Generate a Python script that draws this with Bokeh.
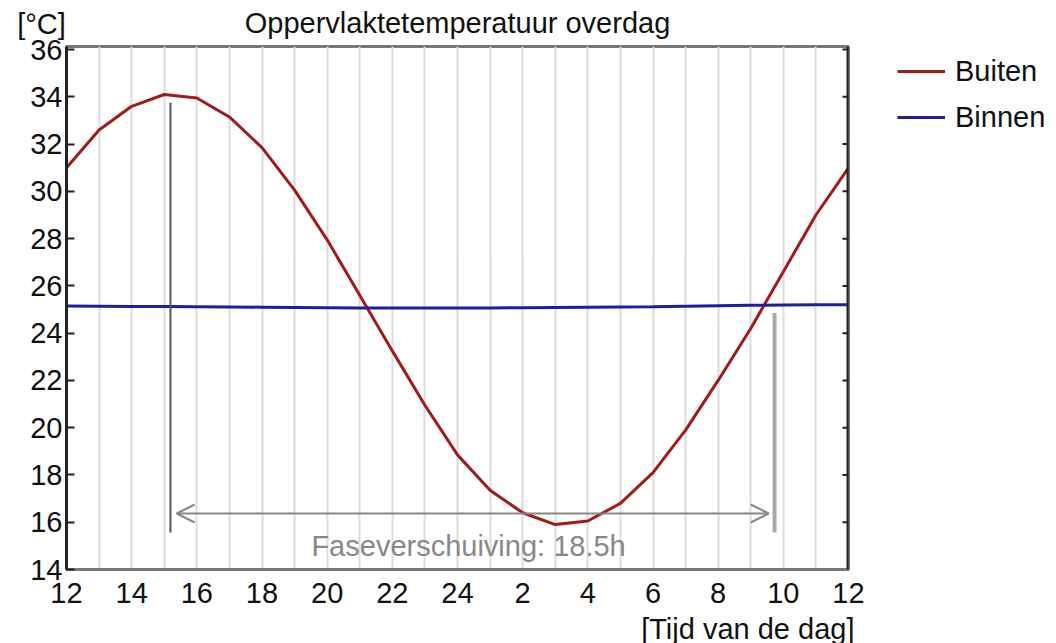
from bokeh.plotting import figure
from bokeh.models import (FixedTicker, Range1d, Label, Arrow, OpenHead,
                          Legend, LegendItem, Title, Span)
from bokeh.embed import file_html
from bokeh.resources import INLINE

# ---- data ----
hours = list(range(12, 37))  # 12 h .. 12 h next day (36)
buiten = [31.0, 32.6, 33.6, 34.1, 33.95, 33.15, 31.85, 30.05, 27.95, 25.6,
          23.25, 20.95, 18.85, 17.35, 16.4, 15.9, 16.05, 16.8, 18.1, 19.9,
          22.0, 24.2, 26.6, 29.0, 31.0]
binnen = [25.15, 25.14, 25.13, 25.13, 25.12, 25.11, 25.10, 25.09, 25.08, 25.07,
          25.06, 25.06, 25.06, 25.07, 25.08, 25.09, 25.10, 25.11, 25.12, 25.14,
          25.16, 25.18, 25.19, 25.2, 25.2]
x_ticks = [12, 14, 16, 18, 20, 22, 24, 26, 28, 30, 32, 34, 36]
x_tick_labels = ["12", "14", "16", "18", "20", "22", "24", "2", "4", "6", "8", "10", "12"]
y_ticks = [14, 16, 18, 20, 22, 24, 26, 28, 30, 32, 34, 36]
peak_time = 15.19
cross_time = 33.73
shift_label = "Faseverschuiving: 18.5h"

FONT = "Liberation Sans"
FS = "29px"

p = figure(frame_width=782, frame_height=523, output_backend="svg", toolbar_location=None,
           x_range=Range1d(12, 36), y_range=Range1d(14, 36.13),
           min_border_left=66, min_border_right=0, min_border_top=46, min_border_bottom=0)
p.background_fill_color = "white"
p.outline_line_color = "#777777"
p.outline_line_width = 3

# title
p.title.text = "Oppervlaktetemperatuur overdag"
p.title.align = "center"
p.title.vertical_align = "top"
p.title.text_font = FONT
p.title.text_font_size = FS
p.title.text_font_style = "normal"
p.title.text_color = "#111111"
p.title.standoff = 12

# grid
p.ygrid.visible = False
p.xgrid.ticker = FixedTicker(ticks=hours)
p.xgrid.grid_line_color = "#dcdcdc"
p.xgrid.grid_line_width = 2

# axes
xa = p.xaxis[0]
xa.ticker = FixedTicker(ticks=x_ticks)
xa.major_label_overrides = {t: l for t, l in zip(x_ticks, x_tick_labels)}
xa.major_tick_in = 0
xa.major_tick_out = 0
xa.minor_tick_line_color = None
xa.axis_line_color = "#777777"
xa.axis_line_width = 3
xa.major_label_text_font = FONT
xa.major_label_text_font_size = FS
xa.major_label_text_color = "#111111"
xa.major_label_standoff = 13

ya = p.yaxis[0]
ya.ticker = FixedTicker(ticks=y_ticks)
ya.major_tick_in = 8
ya.major_tick_out = 0
ya.major_tick_line_width = 2
ya.major_tick_line_color = "#222222"
ya.minor_tick_line_color = None
ya.axis_line_color = "#222222"
ya.axis_line_width = 3
ya.major_label_text_font = FONT
ya.major_label_text_font_size = FS
ya.major_label_text_color = "#111111"
ya.major_label_standoff = 4

# right border with inward ticks
p.add_layout(Span(location=36, dimension="height", line_color="#222222", line_width=4))
p.scatter(x=[36] * len(y_ticks), y=y_ticks, marker="dash", size=12,
          line_color="#222222", line_width=2)

# x axis title, right aligned under the frame
p.add_layout(Title(text="[Tijd van de dag]", align="right", text_font=FONT, text_font_size=FS,
                   text_font_style="normal", text_color="#111111", standoff=10, offset=-6), "below")

# series
r1 = p.line(hours, buiten, line_color="#a31a1a", line_width=3)
r2 = p.line(hours, binnen, line_color="#1e1ea3", line_width=3)

# phase-shift annotation
p.segment(x0=[peak_time], y0=[15.57], x1=[peak_time], y1=[33.75],
          line_color="#555555", line_width=2)
p.segment(x0=[cross_time], y0=[15.57], x1=[cross_time], y1=[24.85],
          line_color="#aaaaaa", line_width=4)
p.add_layout(Arrow(x_start=peak_time + 0.19, y_start=16.37, x_end=cross_time - 0.18, y_end=16.37,
                   start=OpenHead(size=18, line_color="#888888", line_width=2),
                   end=OpenHead(size=18, line_color="#888888", line_width=2),
                   line_color="#888888", line_width=2))
p.add_layout(Label(x=24.34, y=14.98, text=shift_label, text_align="center",
                   text_baseline="middle", text_font=FONT, text_font_size=FS,
                   text_color="#888888"))

# legend: first slot of the right side panel, placed near the top
legend = Legend(items=[LegendItem(label="Buiten", renderers=[r1]),
                       LegendItem(label="Binnen", renderers=[r2])],
                location=(49, 429))
legend.label_text_font = FONT
legend.label_text_font_size = FS
legend.label_text_color = "#111111"
legend.glyph_width = 48
legend.glyph_height = 46
legend.label_standoff = 10
legend.spacing = 0
legend.padding = 0
legend.margin = 0
legend.border_line_alpha = 0
legend.background_fill_alpha = 0
p.add_layout(legend, "right")

# unit label (outer slot of the right side panel, drawn at the top-left of the chart)
p.add_layout(Label(x=-1407, y=546, x_units="screen", y_units="screen", text="[°C]",
                   text_align="center", text_baseline="middle", text_font=FONT,
                   text_font_size=FS, text_color="#111111"), "right")

open("out.html", "w").write(file_html(p, INLINE))
